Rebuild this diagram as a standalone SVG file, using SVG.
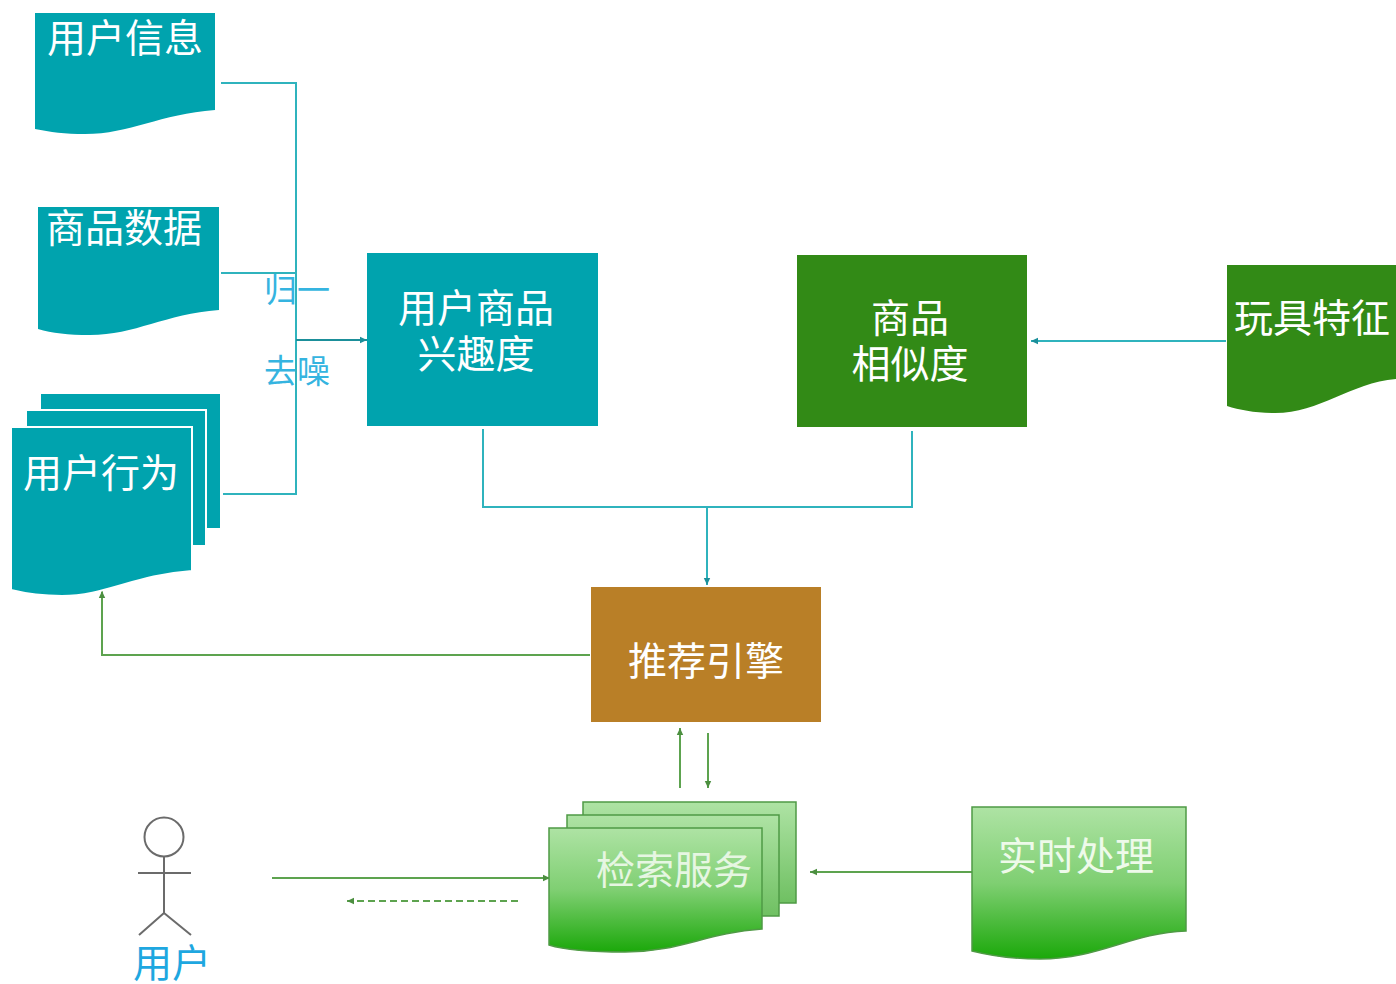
<svg xmlns="http://www.w3.org/2000/svg" width="1396" height="984" viewBox="0 0 1396 984">
<style>
text{font-family:"Noto Sans CJK SC","Liberation Sans",sans-serif;font-size:39px;fill:#fff;text-anchor:middle}
.teal{fill:#00a3ae}
.dk{fill:#328a16}
.lg{fill:url(#g);stroke:#4f9a45;stroke-width:1.5}
.lb{fill:url(#gb);stroke:#4f9a45;stroke-width:1.5}
.cy{fill:none;stroke:#2fb3bd;stroke-width:2}
.gr{fill:none;stroke:#5da34f;stroke-width:2}
.lab{fill:#35b4e0;font-size:33px}
.man{fill:none;stroke:#6b6b6b;stroke-width:2}
</style>
<defs>
<linearGradient id="g" x1="0" y1="0" x2="0" y2="1"><stop offset="0" stop-color="#aee3a4"/><stop offset=".5" stop-color="#7fcf72"/><stop offset="1" stop-color="#1ba80a"/></linearGradient>
<linearGradient id="gb" x1="0" y1="0" x2="0" y2="1"><stop offset="0" stop-color="#aee3a4"/><stop offset="1" stop-color="#6fc062"/></linearGradient>
<marker id="ac" markerWidth="4" markerHeight="4" refX="3.5" refY="2" orient="auto"><path d="M0 .4L3.5 2L0 3.6Z" fill="#1b8f9a"/></marker>
<marker id="ag" markerWidth="4" markerHeight="4" refX="3.5" refY="2" orient="auto"><path d="M0 .4L3.5 2L0 3.6Z" fill="#4c8f40"/></marker>
</defs>
<g id="connectors">
<path class="cy" d="M221 83H296V494H223"/>
<path class="cy" d="M221 273H296"/>
<path class="cy" d="M296 340H367" marker-end="url(#ac)" style="stroke:#1b8f9a"/>
<path class="cy" d="M483 429V507H912V431"/>
<path class="cy" d="M707 507V585" marker-end="url(#ac)"/>
<path class="cy" d="M1226 341H1031" marker-end="url(#ac)"/>
<path class="gr" d="M590 655H102V591" marker-end="url(#ag)"/>
<path class="gr" d="M680 788V728" marker-end="url(#ag)"/>
<path class="gr" d="M708 733V788" marker-end="url(#ag)"/>
<path class="gr" d="M272 878H550" marker-end="url(#ag)"/>
<path class="gr" d="M518 901H347" stroke-dasharray="7 4" marker-end="url(#ag)"/>
<path class="gr" d="M972 872H810" marker-end="url(#ag)"/>
</g>
<g id="user-info"><path class="teal" d="M35 13H215V110C160 114 130 134 85 134C65 134 50 132 35 129Z"/><text x="125" y="52">用户信息</text></g>
<g id="goods-data"><path class="teal" d="M38 207H219V310C165 314 135 335 90 335C68 335 52 333 38 329Z"/><text x="124" y="242">商品数据</text></g>
<g id="user-behavior">
<path class="teal" d="M41 394H220V528H41Z"/>
<path class="teal" d="M26 410H206V546H26Z" stroke="#fff" stroke-width="2"/>
<path class="teal" d="M11 427H192V571C135 575 105 596 62 596C42 596 27 594 11 590Z" stroke="#fff" stroke-width="2"/>
<text x="101" y="487">用户行为</text></g>
<g id="interest"><rect class="teal" x="367" y="253" width="231" height="173"/><text text-anchor="middle" x="476"><tspan x="476" y="322">用户商品</tspan><tspan x="476" y="368">兴趣度</tspan></text></g>
<g id="similarity"><rect class="dk" x="797" y="255" width="230" height="172"/><text x="910"><tspan x="910" y="332">商品</tspan><tspan x="910" y="378">相似度</tspan></text></g>
<g id="toy"><path class="dk" d="M1227 265H1396V379C1350 383 1320 413 1275 413C1255 413 1240 410 1227 406Z"/><text x="1312" y="332">玩具特征</text></g>
<g id="engine"><rect x="591" y="587" width="230" height="135" fill="#b97f27"/><text x="706" y="675">推荐引擎</text></g>
<g id="search">
<path class="lb" d="M583 802H796V903H583Z"/>
<path class="lb" d="M567 815H779V916H567Z"/>
<path class="lg" d="M549 828H762V929C705 933 680 952 625 952C590 952 565 950 549 945Z"/>
<text x="674" y="884" style="fill:#e6f6e2">检索服务</text></g>
<g id="realtime"><path class="lg" d="M972 807H1186V931C1130 933 1100 959 1040 959C1010 959 988 955 972 951Z"/><text x="1076" y="870" style="fill:#eefaea">实时处理</text></g>
<g id="actor"><circle class="man" cx="164" cy="837" r="19.5"/><path class="man" d="M164 857V913M138 873H191M164 913L139 935M164 913L191 935"/><text x="172" y="977" style="fill:#1ea7e0">用户</text></g>
<g id="labels"><text class="lab" x="297" y="302">归一</text><text class="lab" x="297" y="383">去噪</text></g>
</svg>
